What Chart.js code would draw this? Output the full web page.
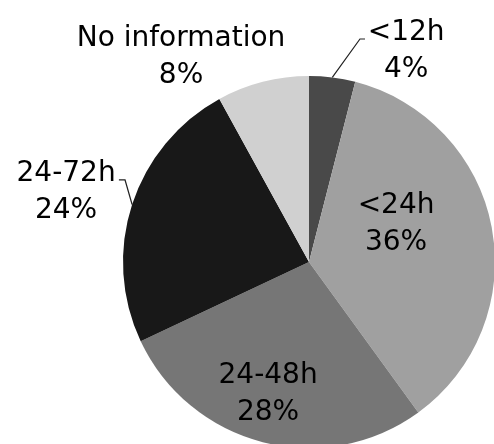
<!DOCTYPE html>
<html>
<head>
<meta charset="utf-8">
<script src="https://cdn.jsdelivr.net/npm/chart.js@4.4.0/dist/chart.umd.min.js"></script>
<style>
    html, body { margin: 0; padding: 0; background: #fff; }
    .wrap { position: relative; width: 494px; height: 444px; overflow: hidden; }
    .wrap canvas { position: absolute; left: 0; top: 0; }
</style>
</head>
<body>
<div class="wrap">
    <canvas id="c-1" width="500" height="460"></canvas>
</div>
<script>
const categories = ['<12h', '<24h', '24-48h', '24-72h', 'No information'];
const shares = [4, 36, 28, 24, 8];
const sliceColors = ['#494949', '#a0a0a0', '#767676', '#181818', '#d0d0d0'];

// label anchors, in units of the pie radius from its centre (x centre, first baseline)
const labelAnchors = [
    [0.522, -1.194],
    [0.468, -0.263],
    [-0.220, 0.651],
    [-1.306, -0.435],
    [-0.688, -1.161],
];
// leader lines for the labels that sit outside: [start, elbow], end is the slice edge
const leaders = {
    0: [[0.301, -1.199], [0.274, -1.199]],
    3: [[-1.022, -0.441], [-0.989, -0.441]],
};

const sliceLabels = {
    id: 'sliceLabels',
    afterDraw: chart => {
        const ctx = chart.ctx;
        const arcs = chart.getDatasetMeta(0).data;
        ctx.save();
        ctx.font = '28px "DejaVu Sans"';
        ctx.fillStyle = '#000';
        ctx.textAlign = 'center';
        ctx.textBaseline = 'alphabetic';
        arcs.forEach((arc, i) => {
            const { x, y, outerRadius, startAngle, endAngle } = arc.getProps(['x', 'y', 'outerRadius', 'startAngle', 'endAngle'], true);
            const [ax, ay] = labelAnchors[i];
            const lx = x + ax * outerRadius;
            const ly = y + ay * outerRadius;
            ctx.fillText(categories[i], lx, ly);
            ctx.fillText(shares[i] + '%', lx, ly + 37);

            if (leaders[i]) {
                const mid = (startAngle + endAngle) / 2;
                const [s, e] = leaders[i];
                ctx.beginPath();
                ctx.strokeStyle = '#222';
                ctx.lineWidth = 1.2;
                ctx.moveTo(x + s[0] * outerRadius, y + s[1] * outerRadius);
                ctx.lineTo(x + e[0] * outerRadius, y + e[1] * outerRadius);
                ctx.lineTo(x + Math.cos(mid) * outerRadius, y + Math.sin(mid) * outerRadius);
                ctx.stroke();
            }
        });
        ctx.restore();
    }
};

new Chart(document.getElementById('c-1').getContext('2d'), {
    type: 'pie',
    data: {
        labels: categories,
        datasets: [{
            data: shares,
            backgroundColor: sliceColors,
            borderWidth: 0,
        }]
    },
    options: {
        responsive: false,
        animation: false,
        devicePixelRatio: 1,
        layout: {
            padding: { left: 123, top: 76, right: 5, bottom: 12 }
        },
        plugins: {
            legend: { display: false },
            tooltip: { enabled: false },
            title: { display: false },
        },
    },
    plugins: [sliceLabels],
});
</script>
</body>
</html>
